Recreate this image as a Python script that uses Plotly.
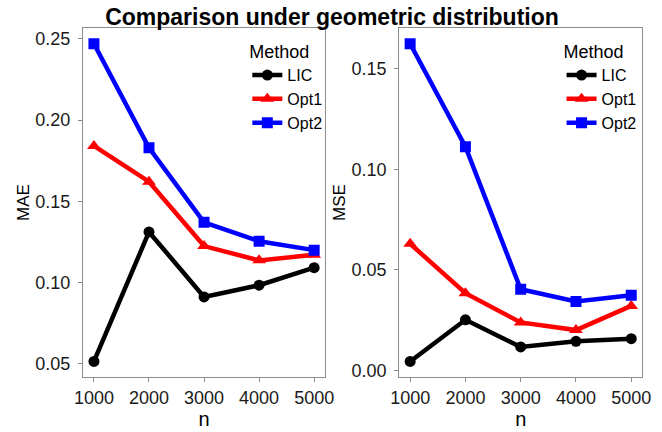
import plotly.graph_objects as go

# Sample sizes
n_values = [1000, 2000, 3000, 4000, 5000]

# Mean absolute error by method
mae_lic = [0.0515, 0.1312, 0.0912, 0.0984, 0.1092]
mae_opt1 = [0.1841, 0.1621, 0.1225, 0.1137, 0.1171]
mae_opt2 = [0.2470, 0.1830, 0.1371, 0.1255, 0.1200]

# Mean squared error by method
mse_lic = [0.0045, 0.0252, 0.0117, 0.0145, 0.0158]
mse_opt1 = [0.0630, 0.0384, 0.0239, 0.0201, 0.0321]
mse_opt2 = [0.1624, 0.1112, 0.0404, 0.0343, 0.0374]

mae_ticks = [0.05, 0.10, 0.15, 0.20, 0.25]
mse_ticks = [0.00, 0.05, 0.10, 0.15]
method_names = ["LIC", "Opt1", "Opt2"]

FONT = "Liberation Sans, Arial, sans-serif"
colors = ["#000000", "#FF0000", "#0000FF"]
symbols = ["circle", "triangle-up", "square"]
marker_sizes = [11, 12, 11]


def padded_range(series_list, frac=0.05):
    lo = min(min(s) for s in series_list)
    hi = max(max(s) for s in series_list)
    pad = (hi - lo) * frac
    return [lo - pad, hi + pad]


fig = go.Figure()

panels = [
    ("x", "y", "legend", [mae_lic, mae_opt1, mae_opt2]),
    ("x2", "y2", "legend2", [mse_lic, mse_opt1, mse_opt2]),
]
for xa, ya, leg, series in panels:
    for name, vals, col, sym, ms in zip(method_names, series, colors, symbols, marker_sizes):
        fig.add_trace(go.Scatter(
            x=n_values, y=vals, name=name, mode="lines+markers",
            line=dict(color=col, width=4.5),
            marker=dict(color=col, symbol=sym, size=ms),
            xaxis=xa, yaxis=ya, legend=leg,
        ))

axis_common = dict(
    showgrid=False, zeroline=False, showline=True, mirror=True,
    linecolor="#8c8c8c", linewidth=1,
    ticks="outside", ticklen=4, tickcolor="#8c8c8c", tickwidth=1,
)
x_font = dict(family=FONT, size=18, color="#1a1a1a")
y_font = dict(family=FONT, size=18, color="#1a1a1a")
x_range = padded_range([n_values], 0.05)

fig.update_layout(
    width=662, height=432, autosize=False,
    margin=dict(l=0, r=0, t=0, b=0),
    paper_bgcolor="white", plot_bgcolor="white",
    title=dict(
        text="Comparison under geometric distribution",
        x=0.5015, xanchor="center", y=1 - 17 / 432, yanchor="middle",
        font=dict(family=FONT, size=23, color="#000000", weight="bold"),
    ),
    xaxis=dict(domain=[76 / 662, 325 / 662], range=x_range, tickvals=n_values,
               tickfont=x_font,
               title=dict(text="n", font=dict(family=FONT, size=20, color="#000000"), standoff=4),
               anchor="y", **axis_common),
    yaxis=dict(domain=[1 - 380 / 432, 1 - 28 / 432],
               range=padded_range([mae_lic, mae_opt1, mae_opt2]),
               tickvals=mae_ticks, ticktext=[f"{v:.2f}" for v in mae_ticks],
               tickfont=y_font, ticklabelstandoff=4,
               title=dict(text="MAE", font=dict(family=FONT, size=17, color="#000000"), standoff=1),
               anchor="x", **axis_common),
    xaxis2=dict(domain=[401 / 662, 651 / 662], range=x_range, tickvals=n_values,
                tickfont=x_font,
                title=dict(text="n", font=dict(family=FONT, size=20, color="#000000"), standoff=4),
                anchor="y2", **axis_common),
    yaxis2=dict(domain=[1 - 380 / 432, 1 - 28 / 432],
                range=padded_range([mse_lic, mse_opt1, mse_opt2]),
                tickvals=mse_ticks, ticktext=[f"{v:.2f}" for v in mse_ticks],
                tickfont=y_font, ticklabelstandoff=4,
                title=dict(text="MSE", font=dict(family=FONT, size=17, color="#000000"), standoff=1),
                anchor="x2", **axis_common),
)

legend_common = dict(
    bgcolor="rgba(0,0,0,0)", borderwidth=0,
    font=dict(family=FONT, size=16, color="#000000"),
    title=dict(text="Method", side="top", font=dict(family=FONT, size=18, color="#000000")),
    xanchor="left", yanchor="top", itemwidth=30, tracegroupgap=0,
)
fig.update_layout(
    legend=dict(x=245 / 662, y=1 - 35 / 432, **legend_common),
    legend2=dict(x=568 / 662, y=1 - 35 / 432, **legend_common),
)

fig.write_html("out.html")
